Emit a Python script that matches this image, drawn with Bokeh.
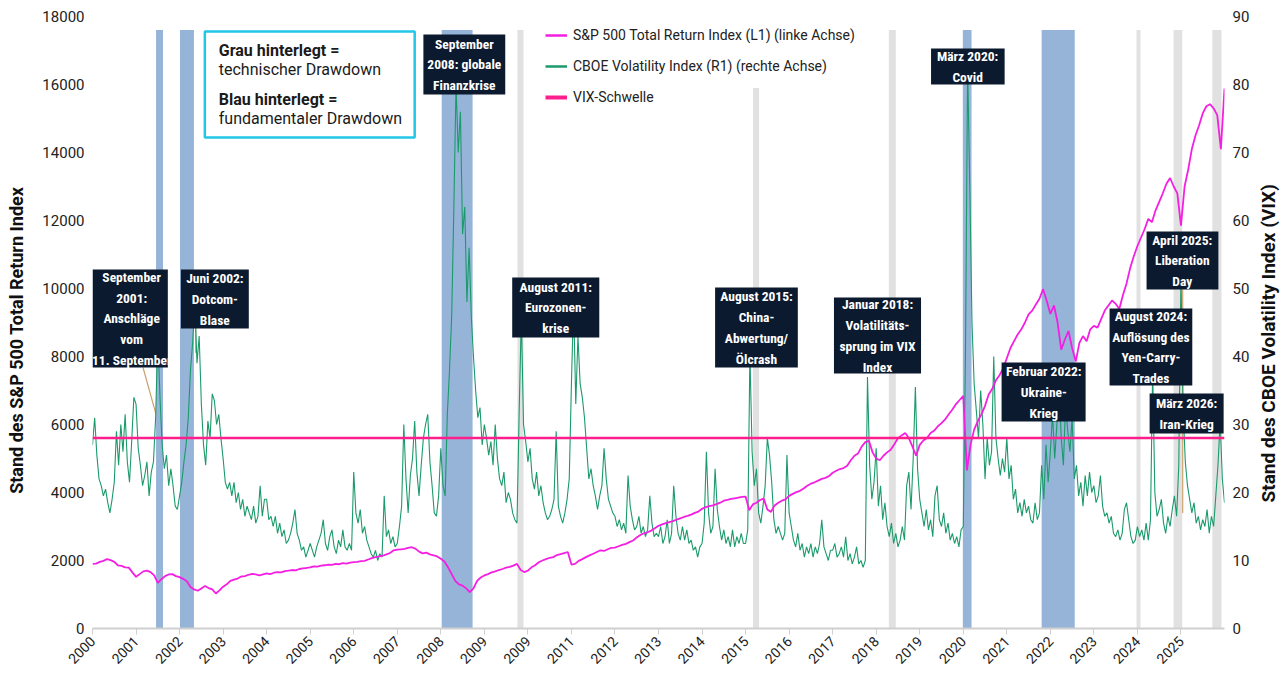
import math
import numpy as np
from bokeh.plotting import figure
from bokeh.layouts import row
from bokeh.models import (Range1d, LinearAxis, FixedTicker, Span, Legend, LegendItem,
                          ColumnDataSource)
from bokeh.core.properties import value
from bokeh.embed import file_html
from bokeh.resources import INLINE

# ------------------------------------------------------------------ data
TICK_YEARS = list(range(2000, 2026))
TICK_LABELS = ["2000", "2001", "2002", "2003", "2004", "2005", "2006", "2007", "2008",
               "2009", "2009", "2011", "2012", "2013", "2014", "2015", "2016", "2017",
               "2018", "2019", "2020", "2021", "2022", "2023", "2024", "2025"]

# CBOE Volatility Index (right axis), 20 readings per axis-year, 2000 .. 2026
VIX = [
    27.0, 31.0, 25.5, 22.0, 21.0, 19.5, 20.5, 18.5, 17.0, 19.0, 21.5, 29.0, 24.0, 30.0, 26.0, 31.5, 24.5, 21.5, 27.5, 34.0,
    33.0, 26.5, 24.0, 21.0, 22.5, 24.5, 19.5, 23.0, 24.5, 31.0, 43.0, 34.0, 27.0, 23.5, 25.5, 21.0, 23.5, 21.0, 18.0, 17.5,
    19.5, 21.5, 24.5, 27.0, 31.0, 38.0, 42.0, 48.0, 39.0, 43.0, 33.0, 27.0, 24.0, 30.5, 28.0, 34.5, 33.5, 30.0, 31.5, 28.0,
    25.0, 21.5, 20.5, 21.5, 19.5, 21.5, 18.5, 20.0, 17.5, 19.0, 16.5, 18.0, 17.0, 16.0, 18.0, 15.5, 16.5, 21.0, 16.5, 19.0,
    19.0, 16.0, 16.5, 15.0, 16.5, 14.0, 15.5, 13.5, 14.5, 12.5, 13.0, 14.0, 15.5, 17.5, 14.0, 13.0, 11.5, 12.0, 10.5, 11.5,
    12.5, 11.5, 10.5, 12.0, 13.0, 14.0, 16.0, 12.5, 11.5, 13.5, 14.5, 12.0, 11.0, 13.0, 12.0, 14.5, 12.0, 11.5, 12.5, 11.5,
    23.0, 17.0, 15.5, 17.5, 14.0, 15.0, 13.0, 12.0, 11.0, 10.5, 11.5, 10.0, 11.0, 10.5, 19.5, 13.5, 14.5, 12.5, 13.5, 12.0,
    12.5, 15.0, 18.0, 30.0, 22.0, 17.0, 22.5, 25.0, 30.5, 23.0, 19.5, 24.0, 28.0, 30.0, 31.5, 24.5, 21.0, 17.0, 16.5, 19.5,
    26.5, 21.0, 19.5, 31.5, 38.0, 46.0, 62.0, 80.0, 70.0, 76.0, 58.0, 62.0, 48.0, 56.0, 46.0, 40.0, 35.0, 31.0, 32.5, 27.0,
    30.0, 28.0, 25.5, 27.5, 24.0, 30.0, 25.0, 22.0, 21.0, 23.0, 18.5, 20.0, 19.0, 17.0, 16.0, 15.5, 32.0, 46.0, 30.0, 27.5,
    24.5, 26.5, 22.0, 20.5, 23.0, 19.5, 21.0, 18.5, 17.0, 16.0, 16.5, 17.5, 19.0, 29.0, 18.0, 16.5, 15.5, 17.0, 19.0, 22.0,
    36.0, 48.0, 33.0, 43.0, 36.0, 34.0, 31.0, 26.5, 22.0, 23.5, 21.0, 19.5, 17.5, 19.5, 21.0, 26.5, 22.0, 19.0, 18.0, 17.0,
    16.5, 15.0, 16.0, 14.5, 15.5, 14.0, 22.5, 18.0, 16.0, 14.5, 15.0, 16.5, 14.0, 15.0, 13.5, 14.5, 19.5, 15.5, 13.5, 14.0,
    13.5, 15.0, 12.5, 13.5, 16.0, 12.5, 14.0, 21.0, 16.5, 14.0, 13.0, 15.0, 13.0, 14.5, 12.5, 13.0, 11.5, 12.0, 10.5, 12.0,
    12.5, 15.5, 26.0, 17.0, 14.0, 15.0, 23.5, 17.5, 15.0, 13.0, 14.5, 12.5, 13.5, 12.0, 14.5, 12.0, 13.5, 12.5, 14.0, 12.5,
    12.5, 14.5, 40.5, 26.0, 21.0, 23.5, 17.0, 15.5, 18.0, 21.0, 28.0, 25.5, 21.5, 16.0, 14.0, 15.0, 14.0, 13.0, 14.0, 25.5,
    17.0, 15.0, 13.0, 12.0, 14.0, 11.5, 12.5, 10.5, 12.0, 11.0, 12.5, 10.5, 12.0, 11.0, 12.5, 16.0, 12.0, 11.0, 10.0, 11.5,
    11.5, 12.5, 10.5, 11.0, 12.0, 10.5, 13.5, 10.0, 11.0, 9.5, 10.5, 12.0, 9.5, 10.0, 9.0, 10.0, 37.0, 24.0, 19.0, 21.5,
    26.5, 18.0, 21.0, 16.0, 18.5, 15.0, 13.5, 15.5, 12.5, 14.0, 12.0, 13.0, 15.0, 13.0, 21.0, 23.0, 17.5, 25.0, 35.5, 23.5,
    19.0, 17.0, 15.0, 17.5, 14.5, 16.0, 13.5, 19.5, 21.0, 16.0, 15.0, 17.0, 14.0, 15.5, 13.0, 14.0, 12.5, 13.5, 12.0, 14.5,
    15.0, 40.0, 82.7, 65.0, 45.0, 36.0, 32.0, 28.0, 35.0, 30.0, 22.0, 28.0, 24.0, 26.0, 40.0, 28.0, 25.0, 22.5, 25.0, 23.0,
    28.0, 22.0, 24.0, 19.0, 20.5, 17.0, 18.5, 16.5, 19.0, 17.0, 18.0, 16.0, 15.5, 18.5, 16.0, 17.0, 24.0, 19.0, 27.0, 21.5,
    26.0, 31.5, 25.0, 30.0, 36.0, 28.0, 24.0, 33.0, 29.0, 26.0, 31.0, 22.0, 24.0, 19.5, 21.5, 18.0, 22.5, 19.5, 23.0, 20.0,
    21.0, 18.5, 19.5, 22.5, 18.0, 16.5, 17.0, 15.5, 16.5, 14.0, 13.5, 14.5, 13.0, 14.0, 17.5, 18.5, 16.0, 13.5, 12.5, 13.0,
    15.0, 13.5, 14.5, 13.0, 15.5, 13.0, 16.0, 38.0, 20.0, 16.5, 17.5, 19.0, 15.5, 14.0, 16.5, 15.0, 17.5, 19.5, 16.5, 24.0,
    52.0, 32.0, 24.5, 21.0, 19.0, 17.0, 18.5, 15.5, 16.5, 14.5, 16.0, 15.0, 17.5, 14.0, 16.5, 15.0, 19.5, 24.0, 30.5, 22.0,
    18.5,
]

# S&P 500 Total Return Index (left axis), 12 readings per axis-year, 2000 .. 2026
SPX = [
    1900, 1910, 1960, 1990, 2040, 2010, 1960, 1860, 1840, 1800, 1790, 1650,
    1520, 1600, 1680, 1700, 1660, 1560, 1340, 1450, 1540, 1590, 1600, 1540,
    1510, 1460, 1390, 1220, 1150, 1110, 1180, 1250, 1190, 1150, 1030, 1120,
    1230, 1300, 1400, 1440, 1470, 1530, 1540, 1580, 1610, 1590, 1560, 1590,
    1620, 1600, 1640, 1660, 1650, 1690, 1700, 1720, 1710, 1750, 1770, 1780,
    1800, 1830, 1820, 1850, 1860, 1880, 1870, 1900, 1890, 1920, 1910, 1940,
    1950, 1960, 1980, 1990, 2030, 2070, 2100, 2120, 2140, 2180, 2220, 2300,
    2320, 2330, 2340, 2370, 2390, 2350, 2260, 2210, 2230, 2180, 2150, 2120,
    2050, 1970, 1800, 1600, 1400, 1300, 1260, 1180, 1070, 1180, 1400, 1500,
    1560, 1600, 1650, 1680, 1720, 1750, 1790, 1810, 1850, 1900, 1720, 1660,
    1700, 1800, 1860, 1950, 2000, 2040, 2080, 2100, 2160, 2190, 2220, 2250,
    1880, 1900, 1990, 2040, 2100, 2150, 2200, 2250, 2300, 2280, 2330, 2370,
    2380, 2420, 2460, 2490, 2540, 2590, 2680, 2750, 2800, 2830, 2880, 2950,
    3020, 3060, 3100, 3130, 3160, 3200, 3240, 3280, 3310, 3350, 3400, 3440,
    3520, 3570, 3600, 3620, 3660, 3700, 3760, 3780, 3810, 3830, 3850, 3870,
    3880, 3480, 3650, 3700, 3780, 3820, 3500, 3430, 3620, 3700, 3760, 3800,
    3900, 3960, 4010, 4050, 4120, 4200, 4260, 4300, 4350, 4400, 4430, 4480,
    4580, 4640, 4690, 4720, 4790, 4950, 5080, 5150, 5350, 5480, 5520, 5180,
    5000, 4950, 5080, 5180, 5260, 5420, 5600, 5680, 5750, 5600, 5350, 5080,
    5400, 5530, 5600, 5750, 5820, 5950, 6040, 6150, 6300, 6440, 6600, 6720,
    6840, 4650, 5400, 5850, 6100, 6300, 6550, 6880, 7050, 7300, 7450, 7650,
    7950, 8250, 8450, 8650, 8800, 9000, 9240, 9350, 9530, 9700, 9980, 9640,
    9250, 9500, 9000, 8200, 8500, 8750, 8250, 7850, 8400, 8600, 8450, 8800,
    8900, 8850, 9100, 9350, 9500, 9650, 9550, 9400, 9800, 10150, 10600, 10950,
    11250, 11500, 11750, 12050, 11950, 12300, 12550, 12800, 13080, 13250, 13000, 12800,
    11850, 13000, 13500, 14100, 14500, 14800, 15150, 15360, 15420, 15300, 15100, 14100,
    15880,
]

VIX_THRESHOLD = 28

# drawdown periods (axis-years); "tech" = grey, "fund" = blue
BAND_START = [2001.46, 2002.01, 2008.02, 2009.76, 2015.17, 2018.29, 2019.99, 2021.80, 2023.98, 2024.83, 2025.72]
BAND_END = [2001.62, 2002.33, 2008.73, 2009.90, 2015.31, 2018.45, 2020.19, 2022.56, 2024.07, 2025.03, 2025.93]
BAND_KIND = ["fund", "fund", "fund", "tech", "tech", "tech", "fund", "fund", "tech", "tech", "tech"]

EVENT_TEXT = [
    "September\n2001:\nAnschläge\nvom\n11. September",
    "Juni 2002:\nDotcom-\nBlase",
    "September\n2008: globale\nFinanzkrise",
    "August 2011:\nEurozonen-\nkrise",
    "August 2015:\nChina-\nAbwertung/\nÖlcrash",
    "Januar 2018:\nVolatilitäts-\nsprung im VIX\nIndex",
    "März 2020:\nCovid",
    "Februar 2022:\nUkraine-\nKrieg",
    "August 2024:\nAuflösung des\nYen-Carry-\nTrades",
    "April 2025:\nLiberation\nDay",
    "März 2026:\nIran-Krieg",
]

LEFT_TITLE = "Stand des S&P 500 Total Return Index"
RIGHT_TITLE = "Stand des CBOE Volatility Index (VIX)"

# ------------------------------------------------------------------ layout / style
MAGENTA = "#f41fe2"
GREEN = "#1b9a6b"
THRESH = "#ff1f8c"
BLUE = "#95b4d8"
GREY = "#e1e1e1"
NAVY = "#0c1a2f"
CYAN = "#22c6e6"
FONT = "Roboto"
BOXFONT = "Roboto Condensed, Roboto"

# annotation boxes: (left, right, top, bottom) in axis units, and text centre
EVENT_BOX = [
    (2000.00, 2001.73, 10559, 7676), (2002.03, 2003.59, 10559, 8824),
    (2007.60, 2009.48, 17471, 15706), (2009.64, 2011.64, 10324, 8559),
    (2014.30, 2016.20, 10029, 7676), (2017.03, 2019.03, 9735, 7500),
    (2019.26, 2020.95, 17059, 16000), (2020.88, 2022.81, 7824, 6088),
    (2023.36, 2025.26, 9412, 7147), (2024.21, 2025.86, 11676, 9971),
    (2024.28, 2025.98, 6912, 5735),
]
EVENT_CX = [2000.90, 2002.81, 2008.54, 2010.64, 2015.25, 2018.03, 2020.10, 2021.85, 2024.31, 2025.03, 2025.13]

vix_x = 2000 + np.arange(len(VIX)) / 20.0
spx_x = 2000 + np.arange(len(SPX)) / 12.0

p = figure(width=1222, height=698, x_range=Range1d(2000, 2026), y_range=Range1d(0, 18000),
           output_backend="svg", toolbar_location=None,
           min_border_left=62, min_border_right=26, min_border_top=16, min_border_bottom=70)
p.extra_y_ranges = {"vix": Range1d(0, 90)}
p.background_fill_color = "white"
p.border_fill_color = "white"
p.outline_line_color = None
p.xgrid.visible = False
p.ygrid.visible = False

# bands
band_top = [17600] * len(BAND_START)
band_top[4] = 15900
band_src = ColumnDataSource(dict(
    left=BAND_START, right=BAND_END, top=band_top, bottom=[0] * len(BAND_START),
    color=[BLUE if k == "fund" else GREY for k in BAND_KIND]))
p.quad(left="left", right="right", top="top", bottom="bottom", fill_color="color",
       line_color=None, source=band_src)

# connectors
p.segment(x0=[2001.16, 2002.37, 2025.04], y0=[7676, 8824, 9971],
          x1=[2001.46, 2002.37, 2025.04], y1=[6300, 8100, 3400],
          line_color="#c9a26b", line_width=1.2)

# series
p.line(vix_x, VIX, y_range_name="vix", line_color=GREEN, line_width=1.1)
p.line(spx_x, SPX, line_color=MAGENTA, line_width=1.8)
p.add_layout(Span(location=VIX_THRESHOLD, dimension="width", y_range_name="vix",
                  line_color=THRESH, line_width=2.5))

# event boxes
p.quad(left=[b[0] for b in EVENT_BOX], right=[b[1] for b in EVENT_BOX],
       top=[b[2] for b in EVENT_BOX], bottom=[b[3] for b in EVENT_BOX],
       fill_color=NAVY, line_color=None)
p.text(x=EVENT_CX, y=[(b[2] + b[3]) / 2 for b in EVENT_BOX], text=EVENT_TEXT,
       text_align="center", text_baseline="middle", text_color="white",
       text_font=value(BOXFONT), text_font_style="bold", text_font_size="13.5px",
       text_line_height=1.3)

# info box
p.quad(left=[2002.58], right=[2007.40], top=[17559], bottom=[14441],
       fill_color="white", line_color=CYAN, line_width=2.5)
p.text(x=[2002.90, 2002.90], y=[17000, 15559], text=["Grau hinterlegt =", "Blau hinterlegt ="],
       text_align="left", text_baseline="middle", text_color="#1a1a1a",
       text_font=value(FONT), text_font_style="bold", text_font_size="16px")
p.text(x=[2002.90, 2002.90], y=[16441, 15000], text=["technischer Drawdown", "fundamentaler Drawdown"],
       text_align="left", text_baseline="middle", text_color="#1a1a1a",
       text_font=value(FONT), text_font_size="16px")

# legend (sample glyphs carry no visible data)
nan = [float("nan")]
l1 = p.line(nan, nan, line_color=MAGENTA, line_width=2.5)
l2 = p.line(nan, nan, line_color=GREEN, line_width=2.5)
l3 = p.line(nan, nan, line_color=THRESH, line_width=4)
legend = Legend(items=[
    LegendItem(label="S&P 500 Total Return Index (L1) (linke Achse)", renderers=[l1]),
    LegendItem(label="CBOE Volatility Index (R1) (rechte Achse)", renderers=[l2]),
    LegendItem(label="VIX-Schwelle", renderers=[l3])],
    location=(453, 521), glyph_width=22, glyph_height=20, label_height=20, spacing=11,
    padding=0, margin=0, label_standoff=6, border_line_color=None, background_fill_alpha=0,
    label_text_font=FONT, label_text_font_size="14px", label_text_color="#222222")
p.add_layout(legend)

# axes
left = p.yaxis[0]
left.ticker = FixedTicker(ticks=list(range(0, 18001, 2000)))
right = LinearAxis(y_range_name="vix", ticker=FixedTicker(ticks=list(range(0, 91, 10))))
p.add_layout(right, "right")
for ax in (left, right):
    ax.axis_line_color = None
    ax.major_tick_line_color = None
    ax.minor_tick_line_color = None
    ax.major_tick_out = 0
    ax.major_tick_in = 0
    ax.minor_tick_out = 0
    ax.minor_tick_in = 0
    ax.major_label_text_font = FONT
    ax.major_label_text_font_size = "15px"
    ax.major_label_text_color = "#222222"
    ax.major_label_standoff = 8

xa = p.xaxis[0]
xa.ticker = FixedTicker(ticks=TICK_YEARS)
xa.major_label_overrides = {y: lab for y, lab in zip(TICK_YEARS, TICK_LABELS)}
xa.major_label_orientation = math.pi / 4
xa.axis_line_color = "#cfcfcf"
xa.axis_line_width = 2
xa.major_tick_line_color = "#cfcfcf"
xa.major_tick_out = 6
xa.major_tick_in = 0
xa.minor_tick_line_color = None
xa.minor_tick_out = 0
xa.minor_tick_in = 0
xa.major_label_text_font = FONT
xa.major_label_text_font_size = "14px"
xa.major_label_text_color = "#222222"
xa.major_label_standoff = 4


def title_strip(width, text, x, y, size):
    """Narrow figure holding one axis title that reads bottom to top."""
    s = figure(width=width, height=698, x_range=Range1d(0, 1), y_range=Range1d(0, 1),
               output_backend="svg", toolbar_location=None,
               min_border_left=0, min_border_right=0, min_border_top=0, min_border_bottom=0)
    s.axis.visible = False
    s.grid.visible = False
    s.outline_line_color = None
    s.background_fill_color = "white"
    s.border_fill_color = "white"
    s.text(x=[x], y=[y], text=[text], angle=math.pi / 2,
           text_align="center", text_baseline="middle", text_color="#111111",
           text_font=value(FONT), text_font_style="bold", text_font_size=size)
    return s


lt = title_strip(30, LEFT_TITLE, 0.533, 0.471, "18px")
rt = title_strip(28, RIGHT_TITLE, 0.57, 0.466, "19px")

layout = row(lt, p, rt, spacing=0)
open("out.html", "w").write(file_html(layout, INLINE))
